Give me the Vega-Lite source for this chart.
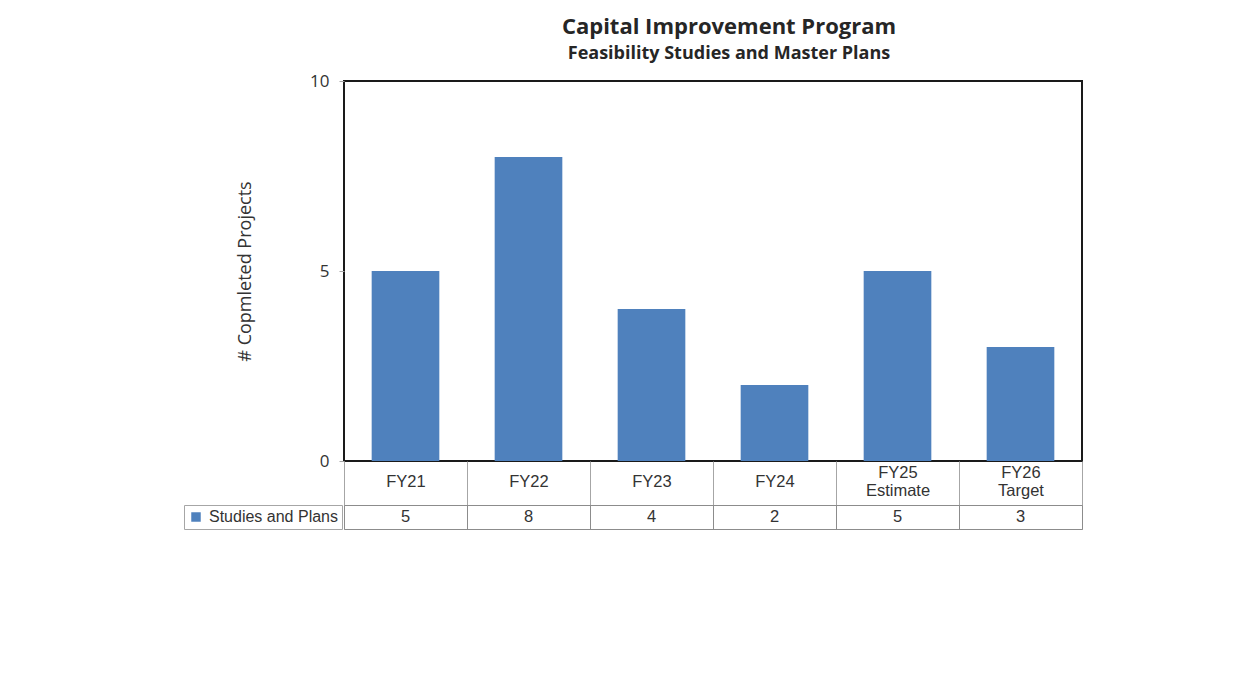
{
  "$schema": "https://vega.github.io/schema/vega-lite/v6.json",
  "background": "white",
  "padding": {"left": 183, "top": 15, "right": 10, "bottom": 10},
  "datasets": {
    "cip": [
      {"year": "FY21", "count": 5, "series": "Studies and Plans"},
      {"year": "FY22", "count": 8, "series": "Studies and Plans"},
      {"year": "FY23", "count": 4, "series": "Studies and Plans"},
      {"year": "FY24", "count": 2, "series": "Studies and Plans"},
      {"year": "FY25 Estimate", "count": 5, "series": "Studies and Plans"},
      {"year": "FY26 Target", "count": 3, "series": "Studies and Plans"}
    ]
  },
  "bounds": "flush",
  "spacing": 44,
  "vconcat": [
    {
      "title": {
        "text": "Capital Improvement Program",
        "subtitle": "Feasibility Studies and Master Plans",
        "anchor": "middle",
        "dx": 16,
        "font": "Open Sans",
        "fontSize": 22,
        "fontWeight": "bold",
        "color": "#262626",
        "subtitleFont": "Open Sans",
        "subtitleFontSize": 18,
        "subtitleFontWeight": "bold",
        "subtitleColor": "#262626",
        "subtitlePadding": 6,
        "offset": 8
      },
      "width": 738,
      "height": 380,
      "view": {"stroke": "#1a1a1a", "strokeWidth": 2},
      "data": {"name": "cip"},
      "mark": {"type": "bar", "width": {"band": 0.55}},
      "encoding": {
        "x": {
          "field": "year",
          "type": "nominal",
          "sort": null,
          "scale": {"paddingInner": 0, "paddingOuter": 0},
          "axis": {
            "title": null,
            "domain": false,
            "tickBand": "extent",
            "tickSize": 44,
            "tickColor": "#a6a6a6",
            "tickWidth": 1,
            "labelAngle": 0,
            "labelExpr": "split(datum.label, ' ')",
            "labelFont": "Liberation Sans",
            "labelFontSize": 16.5,
            "labelColor": "#333333",
            "labelBaseline": "middle",
            "labelPadding": {"condition": {"test": "indexof(datum.label, ' ') >= 0", "value": -33}, "value": -24},
            "labelLineHeight": 18
          }
        },
        "y": {
          "field": "count",
          "type": "quantitative",
          "scale": {"domain": [0, 10]},
          "axis": {
            "title": "# Copmleted Projects",
            "values": [0, 5, 10],
            "grid": false,
            "domain": false,
            "tickSize": 5,
            "tickColor": "#a6a6a6",
            "labelPadding": 10,
            "labelFont": "Open Sans",
            "labelFontSize": 17,
            "labelColor": "#333333",
            "titleFont": "Open Sans",
            "titleFontSize": 18,
            "titleFontWeight": "normal",
            "titleColor": "#333333",
            "titlePadding": 55
          }
        },
        "color": {
          "field": "series",
          "type": "nominal",
          "scale": {"range": ["#4F81BD"]},
          "legend": {
            "orient": "none",
            "legendX": -160,
            "legendY": 424,
            "title": null,
            "strokeColor": "#a6a6a6",
            "padding": 4,
            "symbolType": "square",
            "symbolSize": 90,
            "symbolStrokeWidth": 0,
            "labelFont": "Liberation Sans",
            "labelFontSize": 16,
            "labelColor": "#333333",
            "labelOffset": 5
          }
        }
      }
    },
    {
      "width": 738,
      "height": 24,
      "view": {"stroke": "#8c8c8c", "strokeWidth": 1},
      "data": {"name": "cip"},
      "mark": {"type": "text", "font": "Liberation Sans", "fontSize": 16.5, "color": "#333333", "baseline": "middle"},
      "encoding": {
        "x": {
          "field": "year",
          "type": "nominal",
          "sort": null,
          "scale": {"paddingInner": 0, "paddingOuter": 0},
          "axis": {
            "title": null,
            "labels": false,
            "ticks": false,
            "domain": false,
            "grid": true,
            "tickBand": "extent",
            "gridColor": "#8c8c8c",
            "gridOpacity": 1
          }
        },
        "text": {"field": "count", "type": "quantitative"}
      }
    }
  ]
}
